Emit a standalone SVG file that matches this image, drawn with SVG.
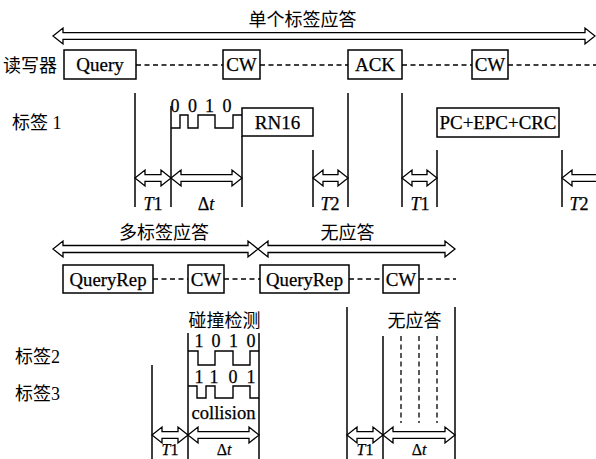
<svg xmlns="http://www.w3.org/2000/svg" width="596" height="459" viewBox="0 0 596 459">
<style>
.box{fill:#fff;stroke:#000;stroke-width:1.5}
.ln{fill:none;stroke:#000;stroke-width:1.5}
.dash{fill:none;stroke:#000;stroke-width:1.3;stroke-dasharray:5 3.5}
.arr{fill:#fff;stroke:#000;stroke-width:1.3;stroke-linejoin:miter}
.wave{fill:none;stroke:#000;stroke-width:1.4}
.zh{font-family:"Liberation Serif","Noto Sans CJK SC",serif;font-size:18px;fill:#000}
.en{font-family:"Liberation Serif","Times New Roman",serif;font-size:19px;fill:#000;stroke:#000;stroke-width:0.25}
.bit{font-family:"Liberation Serif","Times New Roman",serif;font-size:18px;fill:#000;text-anchor:middle;stroke:#000;stroke-width:0.25}
.lab{font-family:"Liberation Serif","Times New Roman",serif;font-size:18px;fill:#000;text-anchor:middle;stroke:#000;stroke-width:0.25}
.lab2{font-family:"Liberation Serif","Times New Roman",serif;font-size:16px;fill:#000;text-anchor:middle;stroke:#000;stroke-width:0.25}
.mid{text-anchor:middle}
</style>

<g id="connectors">
  <polygon class="arr" points="53,36 63,28 63,32.7 585,32.7 585,28 595,36 585,44 585,39.3 63,39.3 63,44"/>
  <line class="dash" x1="136" y1="65" x2="223" y2="65"/>
  <line class="dash" x1="260" y1="65" x2="348" y2="65"/>
  <line class="dash" x1="402" y1="65" x2="472" y2="65"/>
  <line class="dash" x1="508" y1="65" x2="596" y2="65"/>
  <line class="ln" x1="135" y1="93" x2="135" y2="207"/>
  <line class="ln" x1="171" y1="106" x2="171" y2="207"/>
  <line class="ln" x1="242" y1="136" x2="242" y2="207"/>
  <line class="ln" x1="313" y1="150" x2="313" y2="207"/>
  <line class="ln" x1="348" y1="93" x2="348" y2="207"/>
  <line class="ln" x1="402" y1="93" x2="402" y2="207"/>
  <line class="ln" x1="437" y1="150" x2="437" y2="207"/>
  <line class="ln" x1="562" y1="150" x2="562" y2="207"/>
  <polygon class="arr" points="135,178 145,170 145,174.7 161,174.7 161,170 171,178 161,186 161,181.3 145,181.3 145,186"/>
  <polygon class="arr" points="171,178 181,170 181,174.7 232,174.7 232,170 242,178 232,186 232,181.3 181,181.3 181,186"/>
  <polygon class="arr" points="313,178 323,170 323,174.7 338,174.7 338,170 348,178 338,186 338,181.3 323,181.3 323,186"/>
  <polygon class="arr" points="402,178 412,170 412,174.7 427,174.7 427,170 437,178 427,186 427,181.3 412,181.3 412,186"/>
  <polygon class="arr" points="562,178 572,170 572,174.7 598,174.7 598,170 608,178 598,186 598,181.3 572,181.3 572,186"/>
  <polygon class="arr" points="53,249 63,241 63,245.5 248,245.5 248,241 258,249 248,257 248,252.5 63,252.5 63,257"/>
  <polygon class="arr" points="258,249 268,241 268,245.5 445,245.5 445,241 455,249 445,257 445,252.5 268,252.5 268,257"/>
  <line class="dash" x1="153" y1="279" x2="188" y2="279"/>
  <line class="dash" x1="224" y1="279" x2="260" y2="279"/>
  <line class="dash" x1="349" y1="279" x2="383" y2="279"/>
  <line class="dash" x1="419" y1="279" x2="456" y2="279"/>
  <line class="ln" x1="152" y1="365" x2="152" y2="459"/>
  <line class="ln" x1="188" y1="333" x2="188" y2="459"/>
  <line class="ln" x1="259" y1="333" x2="259" y2="459"/>
  <line class="ln" x1="347" y1="307" x2="347" y2="459"/>
  <line class="ln" x1="383" y1="336" x2="383" y2="459"/>
  <line class="ln" x1="455" y1="307" x2="455" y2="459"/>
  <line class="dash" x1="401" y1="336" x2="401" y2="423"/>
  <line class="dash" x1="419" y1="336" x2="419" y2="423"/>
  <line class="dash" x1="437" y1="336" x2="437" y2="423"/>
  <polygon class="arr" points="152,435 162,427 162,431.7 178,431.7 178,427 188,435 178,443 178,438.3 162,438.3 162,443"/>
  <polygon class="arr" points="188,435 198,427 198,431.7 249,431.7 249,427 259,435 249,443 249,438.3 198,438.3 198,443"/>
  <polygon class="arr" points="347,435 357,427 357,431.7 373,431.7 373,427 383,435 373,443 373,438.3 357,438.3 357,443"/>
  <polygon class="arr" points="383,435 393,427 393,431.7 445,431.7 445,427 455,435 445,443 445,438.3 393,438.3 393,443"/>
</g>

<g id="title1"><text class="zh mid" x="302.5" y="25.5">单个标签应答</text></g>
<g id="reader-label"><text class="zh" x="3" y="72">读写器</text></g>
<g id="query"><rect class="box" x="64" y="50" width="72" height="29"/><text class="en mid" x="100" y="71">Query</text></g>
<g id="cw1"><rect class="box" x="223" y="50" width="37" height="29"/><text class="en mid" x="241.5" y="71">CW</text></g>
<g id="ack"><rect class="box" x="348" y="50" width="54" height="29"/><text class="en mid" x="375" y="71">ACK</text></g>
<g id="cw2"><rect class="box" x="472" y="50" width="36" height="29"/><text class="en mid" x="490" y="71">CW</text></g>

<g id="tag1-label"><text class="zh" x="12" y="129">标签 1</text></g>
<g id="tag1-bits">
  <text class="bit" x="175" y="112">0</text>
  <text class="bit" x="192.5" y="112">0</text>
  <text class="bit" x="209.5" y="112">1</text>
  <text class="bit" x="227" y="112">0</text>
  <path class="wave" d="M171,128 H180 V115 H188 V128 H198 V115 H215 V128 H233 V115 H242"/>
</g>
<g id="rn16"><rect class="box" x="242" y="108" width="71" height="28"/><text class="en mid" x="277.5" y="128.5">RN16</text></g>
<g id="pcepc"><rect class="box" x="437" y="108" width="122" height="29"/><text class="en mid" x="498" y="129" textLength="117" lengthAdjust="spacingAndGlyphs">PC+EPC+CRC</text></g>

<g id="labels-row1">
  <text class="lab" x="153" y="210"><tspan font-style="italic">T</tspan>1</text>
  <text class="lab" x="206" y="210">Δ<tspan font-style="italic">t</tspan></text>
  <text class="lab" x="330" y="210"><tspan font-style="italic">T</tspan>2</text>
  <text class="lab" x="420" y="210"><tspan font-style="italic">T</tspan>1</text>
  <text class="lab" x="579" y="210"><tspan font-style="italic">T</tspan>2</text>
</g>

<g id="title2"><text class="zh mid" x="164" y="239">多标签应答</text></g>
<g id="title3"><text class="zh mid" x="347.5" y="239">无应答</text></g>

<g id="queryrep1"><rect class="box" x="63" y="265" width="90" height="28"/><text class="en mid" x="108" y="285.5" textLength="77" lengthAdjust="spacingAndGlyphs">QueryRep</text></g>
<g id="cw3"><rect class="box" x="188" y="265" width="36" height="28"/><text class="en mid" x="206" y="285.5">CW</text></g>
<g id="queryrep2"><rect class="box" x="260" y="265" width="89" height="28"/><text class="en mid" x="304.5" y="285.5" textLength="77" lengthAdjust="spacingAndGlyphs">QueryRep</text></g>
<g id="cw4"><rect class="box" x="383" y="265" width="36" height="28"/><text class="en mid" x="401" y="285.5">CW</text></g>

<g id="collision-detect"><text class="zh mid" x="224.5" y="327">碰撞检测</text></g>
<g id="no-reply"><text class="zh mid" x="414.5" y="327">无应答</text></g>

<g id="tag2-label"><text class="zh" x="15" y="363">标签2</text></g>
<g id="tag3-label"><text class="zh" x="15" y="400">标签3</text></g>

<g id="tag2-bits">
  <text class="bit" x="199" y="347">1</text>
  <text class="bit" x="216" y="347">0</text>
  <text class="bit" x="233.5" y="347">1</text>
  <text class="bit" x="251" y="347">0</text>
  <path class="wave" d="M188,351 H198 V365 H215 V351 H233 V365 H250 V351 H259"/>
</g>
<g id="tag3-bits">
  <text class="bit" x="199" y="383">1</text>
  <text class="bit" x="214" y="383">1</text>
  <text class="bit" x="233" y="383">0</text>
  <text class="bit" x="251" y="383">1</text>
  <path class="wave" d="M188,386 H197 V398 H206 V386 H215 V398 H233 V386 H250 V398 H259"/>
</g>
<g id="collision"><text class="en mid" x="223.5" y="419" textLength="64" lengthAdjust="spacingAndGlyphs">collision</text></g>

<g id="labels-row2">
  <text class="lab2" x="170" y="455"><tspan font-style="italic">T</tspan>1</text>
  <text class="lab2" x="224" y="455">Δ<tspan font-style="italic">t</tspan></text>
  <text class="lab2" x="365" y="455"><tspan font-style="italic">T</tspan>1</text>
  <text class="lab2" x="419" y="455">Δ<tspan font-style="italic">t</tspan></text>
</g>
</svg>
